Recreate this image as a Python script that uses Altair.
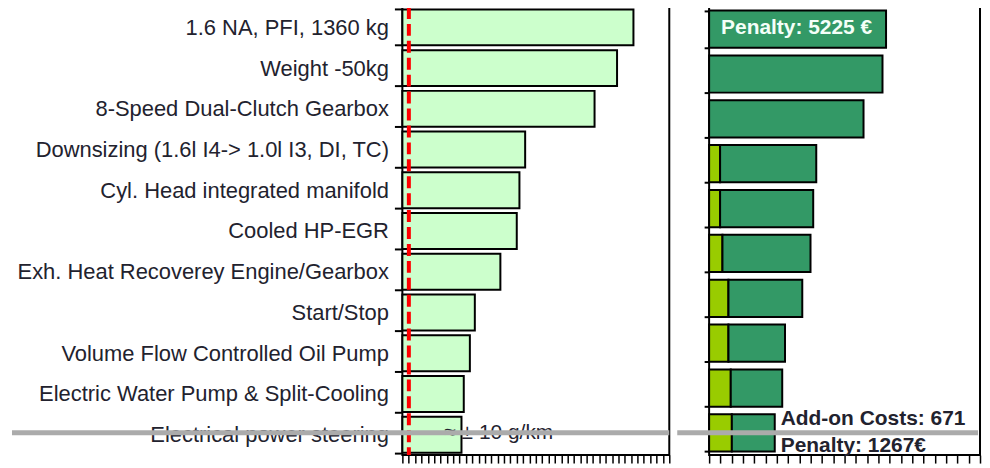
import altair as alt
import pandas as pd

# ---------------- data ----------------
measures = [
    "1.6 NA, PFI, 1360 kg",
    "Weight -50kg",
    "8-Speed Dual-Clutch Gearbox",
    "Downsizing (1.6l I4-> 1.0l I3, DI, TC)",
    "Cyl. Head integrated manifold",
    "Cooled HP-EGR",
    "Exh. Heat Recoverey Engine/Gearbox",
    "Start/Stop",
    "Volume Flow Controlled Oil Pump",
    "Electric Water Pump & Split-Cooling",
    "Electrical power steering",
]
co2 = [150.6, 146.3, 140.4, 122.2, 120.7, 120.0, 115.7, 109.0, 107.7, 106.1, 105.5]
target_co2 = 91.7

steps = [f"Step {i:02d}" for i in range(1, 11)]
addon_costs = [0, 0, 0, 324, 324, 394, 571, 571, 639, 671]
penalty = [5225, 5120, 4560, 2840, 2750, 2600, 2180, 1670, 1520, 1267]

co2_major = [90, 100, 110, 120, 130, 140, 150, 160]
eur_major = [0, 2000, 4000, 6000, 8000]
co2_ticks = [co2_major[0] + i * 10 / 6 for i in range(43)]
eur_ticks = [i * 2000 / 6 for i in range(25)]

LABEL_COLOR = "#22222e"
FONT = "Liberation Sans"

# ---------------- shared encodings (identical in every layer so axes merge) ----------------
y_left = alt.Y(
    "measure:N",
    sort=measures,
    scale=alt.Scale(paddingInner=0.12, paddingOuter=0.06),
    axis=alt.Axis(
        title=None, labelFontSize=22, labelFont=FONT, labelColor=LABEL_COLOR,
        tickSize=8, tickWidth=2, tickColor="black", tickBand="extent", orient="left",
        domain=False, labelPadding=6, minExtent=395, maxExtent=395, labelLimit=393,
    ),
)
x_left = alt.X(
    "co2:Q",
    scale=alt.Scale(domain=[co2_major[0], co2_major[-1]], nice=False, zero=False),
    axis=alt.Axis(
        title=None, values=co2_ticks, domain=False, grid=False, labels=False, orient="bottom",
        tickColor="black", tickWidth=1.5, tickSize=8,
    ),
)
y_right = alt.Y(
    "step:N",
    sort=steps,
    scale=alt.Scale(paddingInner=0.17, paddingOuter=0.08),
    axis=alt.Axis(
        title=None, labels=False, tickSize=5, tickWidth=2, tickColor="black", orient="left",
        tickBand="extent", domain=False, minExtent=35, maxExtent=35,
    ),
)
x_right = alt.X(
    "eur:Q",
    stack="zero",
    scale=alt.Scale(domain=[eur_major[0], eur_major[-1]], nice=False),
    axis=alt.Axis(
        title=None, values=eur_ticks, domain=False, grid=False, labels=False, orient="bottom",
        tickColor="black", tickWidth=1.5, tickSize=8,
    ),
)

# ---------------- left panel ----------------
left_df = pd.DataFrame({"measure": measures, "co2": co2, "base": [co2_major[0]] * len(co2)})

left_bars = alt.Chart(left_df).mark_bar(
    fill="#ccffcc", stroke="black", strokeWidth=2
).encode(y=y_left, x=x_left, x2="base:Q")

target_rule = alt.Chart(pd.DataFrame({"co2": [target_co2]})).mark_rule(
    color="#ff0000", strokeWidth=4, strokeDash=[12, 5]
).encode(x=x_left)

note = alt.Chart(pd.DataFrame({"co2": [101.0], "measure": [measures[-1]], "txt": ["≈ ± 10 g/km"]})).mark_text(
    align="left", baseline="middle", fontSize=21, font=FONT, color=LABEL_COLOR, dy=-2
).encode(x=x_left, y=y_left, text="txt:N")

# grey overlay strip (left part, stays inside the panel's own extent)
overlay_left = alt.Chart(pd.DataFrame({"k": [0]})).mark_rule(
    color="#ababab", strokeWidth=5
).encode(x=alt.value(-392), x2=alt.value(268), y=alt.value(427.5))

left = alt.layer(left_bars, target_rule, note, overlay_left).properties(width=268, height=450)

# ---------------- right panel ----------------
rows = []
for s, a, p in zip(steps, addon_costs, penalty):
    if a > 0:
        rows.append({"step": s, "part": "Add-on Costs", "eur": a, "ord": 0})
    rows.append({"step": s, "part": "Penalty", "eur": p, "ord": 1})
right_df = pd.DataFrame(rows)

right_bars = alt.Chart(right_df).mark_bar(stroke="black", strokeWidth=2).encode(
    y=y_right,
    x=x_right,
    color=alt.Color(
        "part:N",
        scale=alt.Scale(domain=["Add-on Costs", "Penalty"], range=["#99cc00", "#339966"]),
        legend=None,
    ),
    order=alt.Order("ord:Q"),
)

top_label = alt.Chart(pd.DataFrame({
    "eur": [0], "step": [steps[0]], "txt": [f"Penalty: {penalty[0]} €"]
})).mark_text(
    align="left", baseline="middle", fontSize=21, font=FONT, fontWeight="bold",
    color="#f4fff8", dx=12, dy=-1,
).encode(x=x_right, y=y_right, text="txt:N")

end_total = addon_costs[-1] + penalty[-1]
addon_label = alt.Chart(pd.DataFrame({
    "eur": [end_total], "step": [steps[-1]], "txt": [f"Add-on Costs: {addon_costs[-1]} €"],
})).mark_text(
    align="left", baseline="middle", fontSize=21, font=FONT, fontWeight="bold",
    color=LABEL_COLOR, dx=6, dy=-14, limit=200, ellipsis=" ",
).encode(x=x_right, y=y_right, text="txt:N")

pen_label = alt.Chart(pd.DataFrame({
    "eur": [end_total], "step": [steps[-1]], "txt": [f"Penalty: {penalty[-1]}€"],
})).mark_text(
    align="left", baseline="middle", fontSize=21, font=FONT, fontWeight="bold",
    color=LABEL_COLOR, dx=6, dy=13, limit=200, ellipsis=" ",
).encode(x=x_right, y=y_right, text="txt:N")

overlay_right = alt.Chart(pd.DataFrame({"k": [0]})).mark_rule(
    color="#ababab", strokeWidth=5
).encode(x=alt.value(-32), x2=alt.value(270), y=alt.value(427.5))

right = alt.layer(right_bars, top_label, addon_label, pen_label, overlay_right).properties(width=272, height=450)

chart = (
    alt.hconcat(left, right, spacing=0)
    .resolve_scale(y="independent", x="independent")
    .properties(padding={"top": -14, "left": 0, "right": 0, "bottom": 0})
    .configure(font=FONT)
    .configure_view(stroke="black", strokeWidth=2)
)

chart.save("out.html", embed_options={"renderer": "svg", "actions": False})
